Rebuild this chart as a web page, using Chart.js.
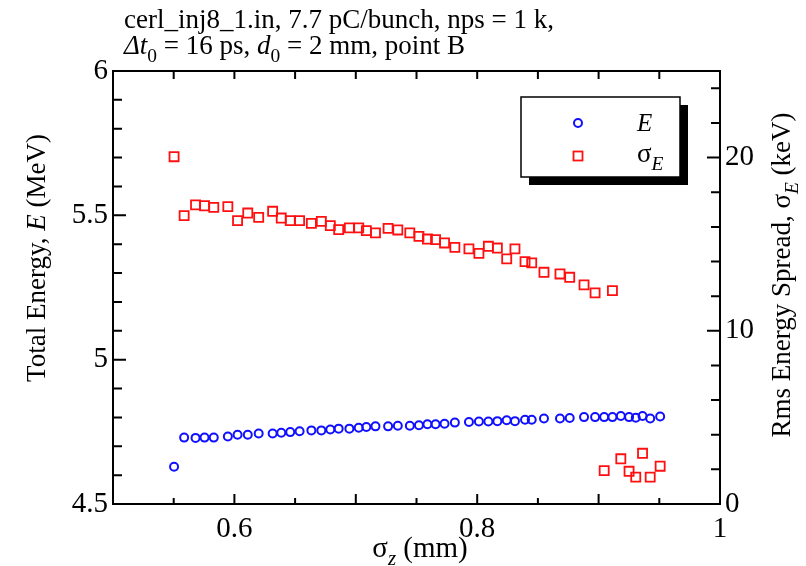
<!DOCTYPE html>
<html>
<head>
<meta charset="utf-8">
<script src="https://cdn.jsdelivr.net/npm/chart.js@4.4.1/dist/chart.umd.min.js"></script>
<style>
  body { margin: 0; background: #fff; }
  canvas { display: block; }
</style>
</head>
<body>
<canvas id="grafico" width="806" height="566"></canvas>
<script>
// bunch length (mm), same x for both series
const sigmaZ = [0.5503, 0.5586, 0.568, 0.5754, 0.583, 0.5946, 0.6026, 0.611, 0.620, 0.6315,
  0.6386, 0.646, 0.6537, 0.6634, 0.6716, 0.679, 0.6859, 0.6947, 0.7024, 0.7087,
  0.7162, 0.7266, 0.7346, 0.7445, 0.752, 0.759, 0.7657, 0.7731, 0.7816, 0.7932,
  0.8014, 0.8092, 0.8166, 0.8243, 0.8311, 0.8394, 0.8449, 0.855, 0.8682, 0.8762,
  0.888, 0.8971, 0.9046, 0.9114, 0.9183, 0.9251, 0.9306, 0.9362, 0.9425, 0.9507];
// total energy E (MeV)
const totalEnergy = [4.629, 4.730, 4.729, 4.730, 4.730, 4.734, 4.740, 4.740, 4.744, 4.744,
  4.747, 4.749, 4.752, 4.755, 4.755, 4.758, 4.761, 4.761, 4.764, 4.767,
  4.769, 4.769, 4.771, 4.771, 4.773, 4.776, 4.776, 4.778, 4.782, 4.784,
  4.786, 4.786, 4.787, 4.790, 4.787, 4.792, 4.792, 4.796, 4.796, 4.798,
  4.801, 4.801, 4.801, 4.801, 4.805, 4.801, 4.799, 4.805, 4.796, 4.803];
// rms energy spread sigma_E (keV)
const energySpread = [20.05, 16.65, 17.27, 17.22, 17.13, 17.17, 16.36, 16.80, 16.55, 16.90,
  16.51, 16.36, 16.36, 16.20, 16.32, 16.07, 15.84, 15.94, 15.94, 15.78,
  15.65, 15.91, 15.82, 15.65, 15.45, 15.30, 15.26, 15.07, 14.82, 14.73,
  14.47, 14.88, 14.78, 14.15, 14.73, 13.99, 13.92, 13.38, 13.28, 13.09,
  12.65, 12.19, 1.93, 12.32, 2.61, 1.89, 1.55, 2.93, 1.55, 2.18];

// tick labels
const xTicks = [0.5, 0.6, 0.8, 1];
const energyTicks = [4.5, 5, 5.5, 6];
const spreadTicks = [0, 10, 20];

const FONT = '"Liberation Serif", "Times New Roman", serif';
const BLUE = '#1010ff';
const RED = '#ff1010';

// texto con cursiva / subindices
let drawRich = (ctx, parts, x, y, size, align) => {
    let widths = parts.map(p => {
        ctx.font = (p.i ? 'italic ' : '') + (p.sub ? size * 0.72 : size) + 'px ' + FONT;
        return ctx.measureText(p.t).width;
    });
    let total = widths.reduce((a, b) => a + b, 0);
    let cx = align === 'center' ? x - total / 2 : x;
    ctx.textBaseline = 'alphabetic';
    ctx.textAlign = 'left';
    parts.forEach((p, k) => {
        ctx.font = (p.i ? 'italic ' : '') + (p.sub ? size * 0.72 : size) + 'px ' + FONT;
        ctx.fillText(p.t, cx, y + (p.sub ? size * 0.28 : 0));
        cx += widths[k];
    });
};

const decorations = {
    id: 'decorations',
    afterDatasetsDraw(chart) {
        const ctx = chart.ctx;
        const a = chart.chartArea;
        const sx = chart.scales.x, sy = chart.scales.y, sy1 = chart.scales.y1;
        ctx.save();
        ctx.strokeStyle = '#000';
        ctx.lineWidth = 2;
        ctx.strokeRect(a.left, a.top, a.right - a.left, a.bottom - a.top);

        ctx.beginPath();
        // x ticks, bottom and top
        for (let k = 0; k <= 10; k++) {
            let v = 0.5 + k * 0.05;
            let px = sx.getPixelForValue(v);
            let len = (k % 2 === 0) ? 10 : 6;
            ctx.moveTo(px, a.bottom); ctx.lineTo(px, a.bottom - len);
            ctx.moveTo(px, a.top); ctx.lineTo(px, a.top + 8);
        }
        // left ticks
        for (let k = 0; k <= 15; k++) {
            let v = 4.5 + k * 0.1;
            let py = sy.getPixelForValue(v);
            let len = (k % 5 === 0) ? 13 : 9;
            ctx.moveTo(a.left, py); ctx.lineTo(a.left + len, py);
        }
        // right ticks
        for (let k = 0; k <= 12; k++) {
            let v = k * 2;
            let py = sy1.getPixelForValue(v);
            let len = (k % 5 === 0) ? 13 : 9;
            ctx.moveTo(a.right, py); ctx.lineTo(a.right - len, py);
        }
        ctx.stroke();
        ctx.restore();
    },
    afterDraw(chart) {
        const ctx = chart.ctx;
        ctx.save();
        ctx.fillStyle = '#000';

        // titulo
        drawRich(ctx, [{t: 'cerl_inj8_1.in, 7.7 pC/bunch, nps = 1 k,'}], 124, 28, 27, 'left');
        drawRich(ctx, [{t: 'Δt', i: true}, {t: '0', sub: true}, {t: ' = 16 ps, '},
            {t: 'd', i: true}, {t: '0', sub: true}, {t: ' = 2 mm, point B'}], 124, 54, 27, 'left');

        // eje x
        drawRich(ctx, [{t: 'σ'}, {t: 'z', i: true, sub: true}, {t: ' (mm)'}], 420, 557, 29, 'center');

        // eje izquierdo
        ctx.save();
        ctx.translate(45, 258);
        ctx.rotate(-Math.PI / 2);
        drawRich(ctx, [{t: 'Total Energy, '}, {t: 'E', i: true}, {t: ' (MeV)'}], 0, 0, 27, 'center');
        ctx.restore();

        // eje derecho
        ctx.save();
        ctx.translate(790, 275);
        ctx.rotate(-Math.PI / 2);
        drawRich(ctx, [{t: 'Rms Energy Spread, σ'}, {t: 'E', i: true, sub: true}, {t: ' (keV)'}], 0, 0, 27, 'center');
        ctx.restore();

        // leyenda
        let lx = 521, ly = 97, lw = 159, lh = 80;
        ctx.fillStyle = '#000';
        ctx.fillRect(lx + 8, ly + 8, lw, lh);
        ctx.fillStyle = '#fff';
        ctx.fillRect(lx, ly, lw, lh);
        ctx.strokeStyle = '#000';
        ctx.lineWidth = 1.5;
        ctx.strokeRect(lx, ly, lw, lh);

        ctx.lineWidth = 2;
        ctx.strokeStyle = BLUE;
        ctx.beginPath();
        ctx.arc(578, 123, 4, 0, Math.PI * 2);
        ctx.stroke();
        ctx.strokeStyle = RED;
        ctx.lineWidth = 1.8;
        ctx.strokeRect(573.5, 151.5, 9, 9);

        ctx.fillStyle = '#000';
        drawRich(ctx, [{t: 'E', i: true}], 637, 131, 25, 'left');
        drawRich(ctx, [{t: 'σ'}, {t: 'E', i: true, sub: true}], 637, 162, 27, 'left');
        ctx.restore();
    }
};

let tickFont = {family: FONT, size: 29};

let grafico = new Chart(document.getElementById('grafico'), {
    type: 'scatter',
    data: {
        datasets: [
            {
                label: 'E',
                data: sigmaZ.map((x, i) => ({x: x, y: totalEnergy[i]})),
                yAxisID: 'y',
                pointStyle: 'circle',
                pointRadius: 4,
                borderWidth: 2,
                borderColor: BLUE,
                backgroundColor: 'rgba(0,0,0,0)'
            },
            {
                label: 'σE',
                data: sigmaZ.map((x, i) => ({x: x, y: energySpread[i]})),
                yAxisID: 'y1',
                pointStyle: 'rect',
                pointRadius: 6.4,
                borderWidth: 1.8,
                borderColor: RED,
                backgroundColor: 'rgba(0,0,0,0)'
            }
        ]
    },
    options: {
        responsive: false,
        animation: false,
        layout: {padding: {top: 71}},
        plugins: {legend: {display: false}, tooltip: {enabled: false}},
        scales: {
            x: {
                type: 'linear', min: 0.5, max: 1,
                afterBuildTicks: s => { s.ticks = xTicks.map(v => ({value: v})); },
                afterFit: s => { s.height = 62; },
                ticks: {font: tickFont, color: '#000', padding: 8, maxRotation: 0,
                    callback: v => (v === 0.5 ? '' : String(v))},
                grid: {display: false, drawTicks: false},
                border: {display: false}
            },
            y: {
                position: 'left', min: 4.5, max: 6,
                afterBuildTicks: s => { s.ticks = energyTicks.map(v => ({value: v})); },
                afterFit: s => { s.width = 113; },
                ticks: {font: tickFont, color: '#000', padding: 5, callback: v => String(v)},
                grid: {display: false, drawTicks: false},
                border: {display: false}
            },
            y1: {
                position: 'right', min: 0, max: 25,
                afterBuildTicks: s => { s.ticks = spreadTicks.map(v => ({value: v})); },
                afterFit: s => { s.width = 86; },
                ticks: {font: tickFont, color: '#000', padding: 5, callback: v => String(v)},
                grid: {display: false, drawTicks: false},
                border: {display: false}
            }
        }
    },
    plugins: [decorations]
});
</script>
</body>
</html>
